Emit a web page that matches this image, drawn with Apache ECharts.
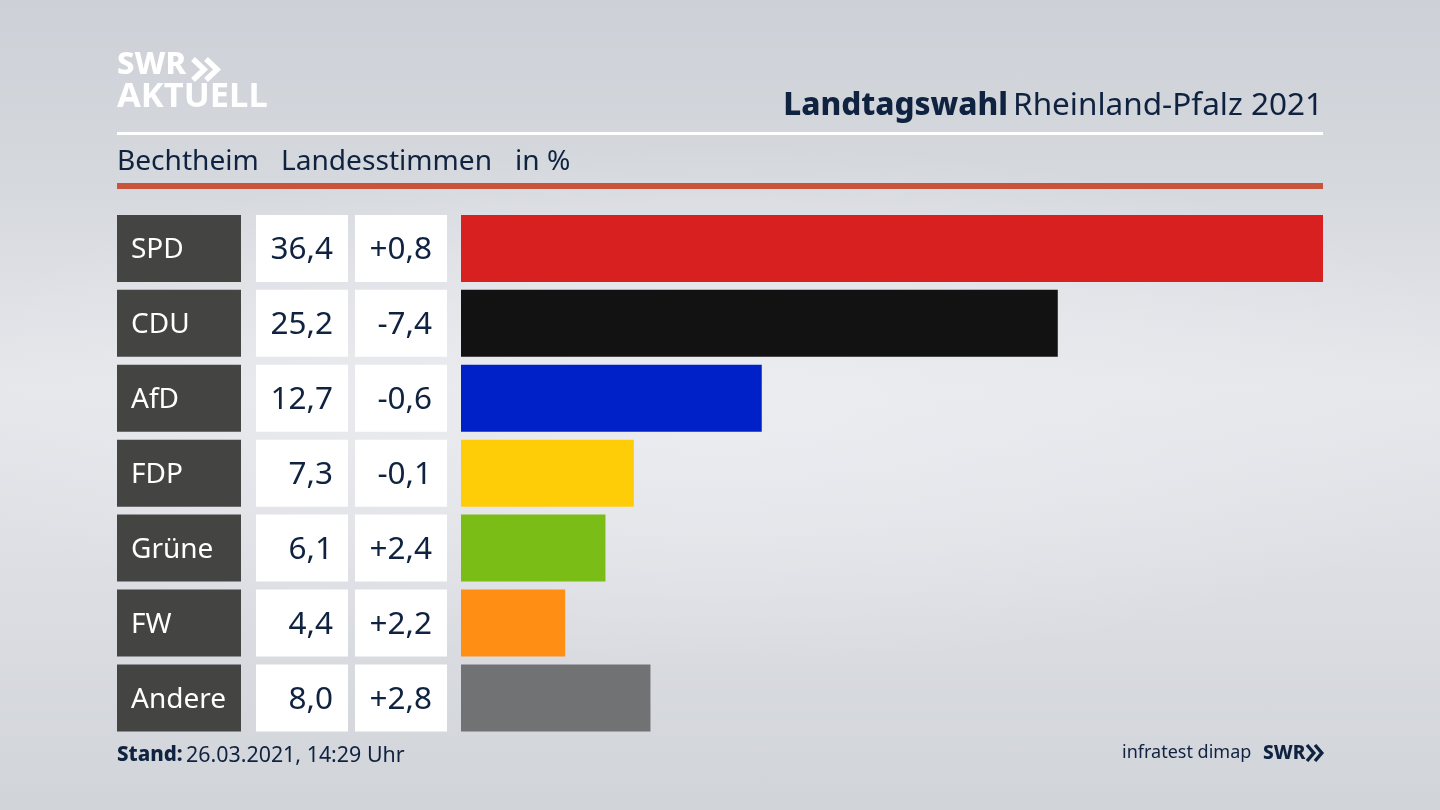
<!DOCTYPE html>
<html>
<head>
<meta charset="utf-8">
<title>Landtagswahl Rheinland-Pfalz 2021</title>
<script src="https://cdn.jsdelivr.net/npm/echarts@6/dist/echarts.min.js"></script>
<style>
    html, body { margin: 0; padding: 0; }
    body {
        width: 1440px;
        height: 810px;
        overflow: hidden;
        background:
            radial-gradient(ellipse 800px 260px at 50% 50%, rgba(236,237,241,0.9), rgba(236,237,241,0)),
            linear-gradient(180deg, #cdd0d6 0%, #d5d8dd 22%, #e6e7eb 48%, #dcdee3 72%, #d1d4d9 100%);
    }
    #main { width: 1440px; height: 810px; }
</style>
</head>
<body>
<div id="main"></div>
<script>
var parties = ['SPD', 'CDU', 'AfD', 'FDP', 'Grüne', 'FW', 'Andere'];
var shares = [36.4, 25.2, 12.7, 7.3, 6.1, 4.4, 8.0];
var changes = [0.8, -7.4, -0.6, -0.1, 2.4, 2.2, 2.8];
var barColors = ['#d7201f', '#121212', '#0021c8', '#ffcd07', '#7abd17', '#ff8f14', '#717274'];

var subtitles = ['Bechtheim', 'Landesstimmen', 'in %'];
var subtitleX = [117, 281, 515];
var standLabel = 'Stand:';
var standText = '26.03.2021, 14:29 Uhr';

var fontName = '"Noto Sans", sans-serif';
var navy = '#0f2240';

function fmt(v)
{
    return v.toFixed(1).replace('.', ',');
}

function fmtChange(v)
{
    return (v > 0 ? '+' : '') + fmt(v);
}

// one grid per column, all rows share the same height
function makeGrid(left, width)
{
    return { left: left, width: width, top: 211, height: 524.4 };
}

function makeYAxis(i)
{
    return {
        type: 'category',
        gridIndex: i,
        inverse: true,
        data: parties,
        show: false
    };
}

function makeXAxis(i, max)
{
    return { type: 'value', gridIndex: i, min: 0, max: max, show: false };
}

// the boxes left of the bars: full width bars that only carry a label
function makeBoxSeries(i, color, texts, labelStyle)
{
    return {
        type: 'bar',
        xAxisIndex: i,
        yAxisIndex: i,
        barWidth: 67,
        silent: true,
        animation: false,
        itemStyle: { color: color },
        data: texts.map(function (t) {
            return { value: 1, label: { formatter: t } };
        }),
        label: Object.assign({
            show: true,
            fontFamily: fontName,
            fontSize: 31.5,
            offset: [0, 2]
        }, labelStyle)
    };
}

// the two arrows of the logo
function arrowShapes(x, y, h, w, lineW, color)
{
    return [0, 1].map(function (n) {
        var dx = x + n * w;
        return {
            type: 'polyline',
            shape: { points: [[dx, y], [dx + w * 0.85, y + h / 2], [dx, y + h]] },
            style: { stroke: color, fill: null, lineWidth: lineW }
        };
    });
}

var myChart = echarts.init(document.getElementById('main'), null, { renderer: 'canvas' });

var graphics = [
    { type: 'rect', shape: { x: 117, y: 132, width: 1206, height: 3 }, style: { fill: '#ffffff' } },
    { type: 'rect', shape: { x: 117, y: 183, width: 1206, height: 6 }, style: { fill: '#c9533b' } },
    { type: 'text', x: 117, y: 50, style: { text: 'SWR', fill: '#ffffff', font: '800 31px ' + fontName } },
    { type: 'text', x: 117, y: 80, style: { text: 'AKTUELL', fill: '#ffffff', font: '700 34.5px ' + fontName } },
    { type: 'text', x: 117, y: 745, style: { text: standLabel, fill: navy, font: '800 20.5px ' + fontName } },
    { type: 'text', x: 186, y: 745, style: { text: standText, fill: navy, font: '21.4px ' + fontName } },
    { type: 'text', x: 1122, y: 744, style: { text: 'infratest dimap', fill: navy, font: '18px ' + fontName } },
    { type: 'text', x: 1263, y: 744, style: { text: 'SWR', fill: navy, font: '800 19px ' + fontName } }
];

subtitles.forEach(function (s, i) {
    graphics.push({
        type: 'text',
        x: subtitleX[i],
        y: 148,
        style: { text: s, fill: navy, font: '28.1px ' + fontName }
    });
});

graphics = graphics
    .concat(arrowShapes(193, 59, 21, 13, 5.5, '#ffffff'))
    .concat(arrowShapes(1307, 745, 16, 8, 3.4, navy));

var option = {
    animation: false,
    backgroundColor: 'transparent',
    title: {
        right: 112,
        top: 85,
        text: '{b|Landtagswahl} {r|Rheinland-Pfalz 2021}',
        textStyle: {
            rich: {
                b: { fontFamily: fontName, fontWeight: 800, fontSize: 31.5, color: navy },
                r: { fontFamily: fontName, fontWeight: 400, fontSize: 31.5, color: navy }
            }
        }
    },
    graphic: { elements: graphics },
    grid: [
        makeGrid(461, 862),
        makeGrid(117, 124),
        makeGrid(256, 92),
        makeGrid(355, 92)
    ],
    xAxis: [
        makeXAxis(0, 36.4),
        makeXAxis(1, 1),
        makeXAxis(2, 1),
        makeXAxis(3, 1)
    ],
    yAxis: [makeYAxis(0), makeYAxis(1), makeYAxis(2), makeYAxis(3)],
    series: [
        {
            name: 'Landesstimmen',
            type: 'bar',
            xAxisIndex: 0,
            yAxisIndex: 0,
            barWidth: 67,
            animation: false,
            data: shares.map(function (v, i) {
                return { value: v, itemStyle: { color: barColors[i] } };
            })
        },
        makeBoxSeries(1, '#444442', parties, {
            position: 'insideLeft',
            distance: 14,
            color: '#ffffff',
            fontSize: 28
        }),
        makeBoxSeries(2, '#ffffff', shares.map(fmt), {
            position: 'insideRight',
            distance: 15,
            color: navy
        }),
        makeBoxSeries(3, '#ffffff', changes.map(fmtChange), {
            position: 'insideRight',
            distance: 15,
            color: navy
        })
    ]
};

myChart.setOption(option);
window.addEventListener('resize', myChart.resize);
</script>
</body>
</html>
